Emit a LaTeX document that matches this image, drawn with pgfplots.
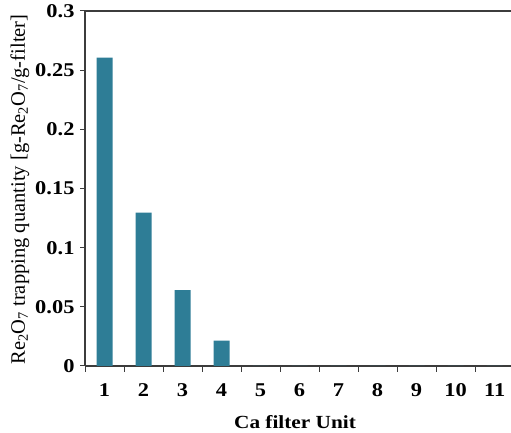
\documentclass[border=0pt]{standalone}
\usepackage{fontspec}
\setmainfont{Liberation Serif}
\newfontfamily\tickfont{Liberation Serif}[FakeStretch=1.15]
\newfontfamily\xlabfont{Liberation Serif}[FakeStretch=1.15]
\usepackage{pgfplots}
\pgfplotsset{compat=1.18}
\definecolor{barcol}{RGB}{46,125,150}
\definecolor{axcol}{RGB}{60,60,60}
\begin{document}
\begin{tikzpicture}
\begin{axis}[
  at={(85pt,67pt)}, anchor=south west,
  scale only axis,
  width=426pt, height=355pt,
  xmin=0.5, xmax=11.42,
  ymin=0, ymax=0.3,
  axis x line*=bottom, axis y line*=left,
  axis line style={axcol, line width=1.1pt, -},
  ybar, bar width=16pt,
  xtick={1,...,11},
  minor xtick={0.5,1.5,...,10.5},
  major x tick style={draw=none},
  minor x tick style={axcol, line width=1pt},
  minor tick length=6pt,
  ytick={0,0.05,...,0.3},
  y tick style={axcol, line width=1pt},
  major tick length=5pt,
  tick align=outside,
  /pgf/number format/assume math mode=true,
  /pgf/number format/fixed,
  /pgf/number format/precision=2,
  tick label style={font=\tickfont\bfseries\fontsize{19.5}{21}\selectfont, text=black},
  xticklabel style={yshift=-9pt},
  yticklabel style={xshift=-2pt},
  xlabel={Ca filter Unit},
  xlabel style={font=\xlabfont\bfseries\fontsize{18.5}{20}\selectfont, at={(axis description cs:0.5,0)}, anchor=north, yshift=-46pt, xshift=-3pt},
  ylabel={Re\textsubscript{2}O\textsubscript{7} trapping quantity [g-Re\textsubscript{2}O\textsubscript{7}/g-filter]},
  ylabel style={font=\fontsize{20.5}{22}\selectfont, at={(axis description cs:-0.153,0.497)}, anchor=center},
  clip=false,
]
\addplot[fill=barcol, draw=none] coordinates {
 (1,0.2605) (2,0.1296) (3,0.0642) (4,0.0214) (5,0) (6,0) (7,0) (8,0) (9,0) (10,0) (11,0)
};
\draw[axcol, line width=1.1pt] (rel axis cs:0,1) -- (rel axis cs:1,1);
\end{axis}
\pgfresetboundingbox
\path (0,0) rectangle (511pt,433pt);
\end{tikzpicture}
\end{document}
